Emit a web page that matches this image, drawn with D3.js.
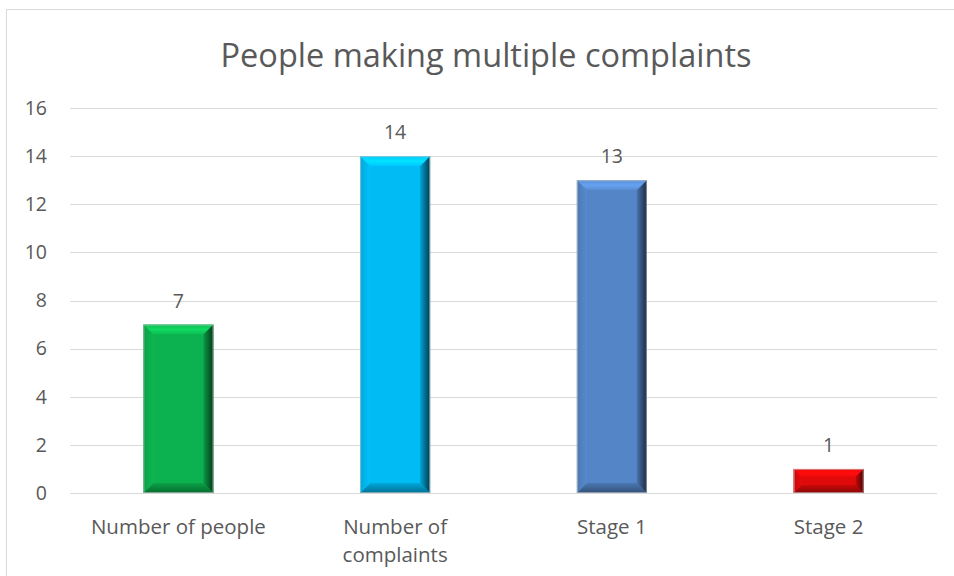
<!DOCTYPE html>
<html>
<head>
<meta charset="utf-8">
<script src="https://cdn.jsdelivr.net/npm/d3@7/dist/d3.min.js"></script>
<style>
  html, body { margin: 0; padding: 0; background: #fff; }
  svg { display: block; }
  text { font-family: "Open Sans", "Noto Sans", sans-serif; fill: #595959; }
</style>
</head>
<body>
<svg id="chart" width="954" height="576"></svg>
<script>
// Chart data
const categories = ["Number of people", "Number of complaints", "Stage 1", "Stage 2"];
const categoryLines = [["Number of people"], ["Number of", "complaints"], ["Stage 1"], ["Stage 2"]];
const values = [7, 14, 13, 1];
const barColors = ["#0cb24f", "#00bbf4", "#5485c6", "#e00a0a"];
const yTicks = [0, 2, 4, 6, 8, 10, 12, 14, 16];
const title = "People making multiple complaints";

const svg = d3.select("#chart");
const W = 954, H = 576;
const plot = { left: 70, right: 937, top: 108, bottom: 493 };

// Chart frame
svg.append("rect")
  .attr("x", 6.5).attr("y", 9.5)
  .attr("width", W + 10).attr("height", H + 10)
  .attr("fill", "#fff").attr("stroke", "#d9d9d9").attr("stroke-width", 1);

const x = d3.scaleBand().domain(categories).range([plot.left, plot.right]).paddingInner(0.677).paddingOuter(0.3385);
const y = d3.scaleLinear().domain([0, 16]).range([plot.bottom, plot.top]);

// Gridlines
svg.append("g").selectAll("line").data(yTicks).join("line")
  .attr("x1", plot.left).attr("x2", plot.right)
  .attr("y1", d => Math.round(y(d)) + 0.5).attr("y2", d => Math.round(y(d)) + 0.5)
  .attr("stroke", "#d9d9d9").attr("stroke-width", 1);

// Y axis labels
const yAxis = d3.axisLeft(y).tickValues(yTicks).tickSize(0).tickPadding(0);
const ga = svg.append("g").attr("transform", `translate(${47},0)`).call(yAxis);
ga.select(".domain").remove();
ga.selectAll("text").attr("font-size", 19.5).style("fill", "#595959")
  .style("font-family", '"Open Sans", sans-serif');

// Title
svg.append("text")
  .attr("x", 486).attr("y", 67)
  .attr("text-anchor", "middle").attr("font-size", 32.5)
  .text(title);

// Bevelled bars
const defs = svg.append("defs");
barColors.forEach((c, i) => {
  const base = d3.color(c);
  const g = defs.append("linearGradient").attr("id", "rside" + i)
    .attr("x1", "0").attr("x2", "1").attr("y1", "0").attr("y2", "0");
  g.append("stop").attr("offset", "0").attr("stop-color", base.darker(0.4));
  g.append("stop").attr("offset", "1").attr("stop-color", base.darker(3.2));
  const gt = defs.append("linearGradient").attr("id", "tside" + i)
    .attr("x1", "0").attr("x2", "0").attr("y1", "0").attr("y2", "1");
  gt.append("stop").attr("offset", "0").attr("stop-color", base.brighter(0.2));
  gt.append("stop").attr("offset", "0.5").attr("stop-color", base.brighter(0.55));
  gt.append("stop").attr("offset", "1").attr("stop-color", base.brighter(0.15));
  const gb = defs.append("linearGradient").attr("id", "bside" + i)
    .attr("x1", "0").attr("x2", "0").attr("y1", "0").attr("y2", "1");
  gb.append("stop").attr("offset", "0").attr("stop-color", base.darker(0.3));
  gb.append("stop").attr("offset", "1").attr("stop-color", base.darker(1.4));
  const gl = defs.append("linearGradient").attr("id", "lside" + i)
    .attr("x1", "0").attr("x2", "1").attr("y1", "0").attr("y2", "0");
  gl.append("stop").attr("offset", "0").attr("stop-color", base.darker(0.3));
  gl.append("stop").attr("offset", "1").attr("stop-color", base.brighter(0.1));
});

const bars = svg.append("g").selectAll("g").data(values).join("g");
bars.each(function(v, i) {
  const g = d3.select(this);
  const x0 = x(categories[i]), w = x.bandwidth();
  const y0 = y(v), y1 = y(0), h = y1 - y0;
  const b = Math.min(10, h / 3);
  const x1 = x0 + w;
  g.append("rect").attr("x", x0).attr("y", y0).attr("width", w).attr("height", h).attr("fill", barColors[i]);
  const poly = (pts, fill) => g.append("polygon").attr("points", pts.map(p => p.join(",")).join(" ")).attr("fill", fill);
  poly([[x0, y0], [x1, y0], [x1 - b, y0 + b], [x0 + b, y0 + b]], `url(#tside${i})`);
  poly([[x0, y1], [x1, y1], [x1 - b, y1 - b], [x0 + b, y1 - b]], `url(#bside${i})`);
  poly([[x0, y0], [x0 + b, y0 + b], [x0 + b, y1 - b], [x0, y1]], `url(#lside${i})`);
  poly([[x1, y0], [x1 - b, y0 + b], [x1 - b, y1 - b], [x1, y1]], `url(#rside${i})`);
  g.append("rect").attr("x", x0 + 0.5).attr("y", y0 + 0.5).attr("width", w - 1).attr("height", h - 1)
    .attr("fill", "none").attr("stroke", "#c9c9c9").attr("stroke-opacity", 0.6).attr("stroke-width", 1);
});

// Value labels
svg.append("g").selectAll("text").data(values).join("text")
  .attr("x", (d, i) => x(categories[i]) + x.bandwidth() / 2)
  .attr("y", d => y(d) - 17)
  .attr("text-anchor", "middle").attr("font-size", 19.5)
  .text(d => d);

// Category labels
const cl = svg.append("g").selectAll("text").data(categoryLines).join("text")
  .attr("x", (d, i) => x(categories[i]) + x.bandwidth() / 2)
  .attr("y", 534)
  .attr("text-anchor", "middle").attr("font-size", 20.5);
cl.selectAll("tspan").data(d => d).join("tspan")
  .attr("x", function() { return d3.select(this.parentNode).attr("x"); })
  .attr("dy", (d, j) => j === 0 ? 0 : 28)
  .text(d => d);
</script>
</body>
</html>
